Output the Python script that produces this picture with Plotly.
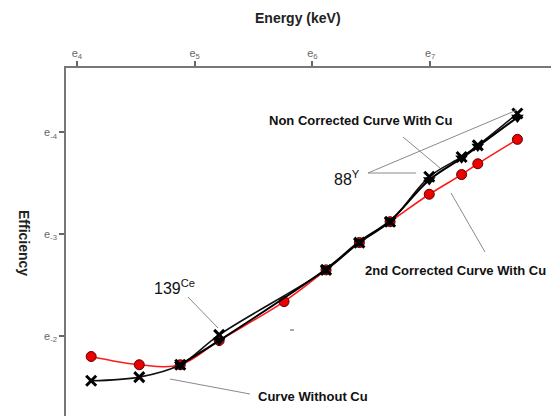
import numpy as np
import plotly.graph_objects as go

# ---- data (energies in keV, efficiencies absolute) ----
energy_red = [61.6, 92.7, 131.3, 182.7, 317.0, 452.9, 601.0, 780.0, 1088.0, 1432.0, 1643.0, 2300.0]
eff_red = [0.1653, 0.1792, 0.1792, 0.1413, 0.0964, 0.0706, 0.0540, 0.0440, 0.0336, 0.0277, 0.0249, 0.0196]

energy_nocu = [61.6, 92.7, 131.3, 182.7, 452.9, 601.0, 780.0, 1088.0, 1432.0, 1643.0, 2300.0]
eff_nocu = [0.2097, 0.2023, 0.1792, 0.1336, 0.0706, 0.0540, 0.0440, 0.0283, 0.0233, 0.0208, 0.0152]

energy_nc = [131.3, 182.7, 452.9, 601.0, 780.0, 1088.0, 1432.0, 1643.0, 2300.0]
eff_nc = [0.1792, 0.1413, 0.0700, 0.0535, 0.0436, 0.0292, 0.0236, 0.0210, 0.0158]

xtick_exp = [4, 5, 6, 7]
ytick_exp = [-4, -3, -2]
xtick_labels = ["e<sub>4</sub>", "e<sub>5</sub>", "e<sub>6</sub>", "e<sub>7</sub>"]
ytick_labels = ["e<sub>-4</sub>", "e<sub>-3</sub>", "e<sub>-2</sub>"]

W, H = 551, 416
L, T = 66, 68


def px(x, y):
    return (x - L) / (W - L), (H - y) / (H - T)


fig = go.Figure()
fig.add_trace(go.Scatter(
    x=energy_red, y=eff_red, mode="lines+markers", line=dict(color="#ff1a1a", width=1.6, shape="spline"),
    marker=dict(symbol="circle", size=10, color="#ee0000", line=dict(color="#550000", width=1)),
    name="2nd Corrected Curve With Cu", showlegend=False))
fig.add_trace(go.Scatter(
    x=energy_nocu, y=eff_nocu, mode="lines+markers", line=dict(color="#111111", width=1.6, shape="spline"),
    marker=dict(symbol="x-thin", size=10, color="black", line=dict(color="black", width=3)),
    name="Curve Without Cu", showlegend=False))
fig.add_trace(go.Scatter(
    x=energy_nc, y=eff_nc, mode="lines+markers", line=dict(color="#000000", width=2, shape="spline"),
    marker=dict(symbol="triangle-down", size=11, color="black"),
    name="Non Corrected Curve With Cu", showlegend=False))

ln10 = np.log(10)
xr = [3.907 / ln10, 8.026 / ln10]
yr = [-1.216 / ln10, -4.633 / ln10]

tf = dict(family="Liberation Sans, Arial", size=11, color="#666666")
fig.update_xaxes(type="log", range=xr, side="top", showgrid=False, zeroline=False, automargin=False,
                 showline=True, linecolor="#777777", linewidth=1.5,
                 ticks="outside", ticklen=5, tickwidth=1.5, tickcolor="#666666",
                 tickvals=[float(np.exp(v)) for v in xtick_exp], ticktext=xtick_labels, tickfont=tf)
fig.update_yaxes(type="log", range=yr, showgrid=False, zeroline=False, automargin=False,
                 showline=True, linecolor="#777777", linewidth=1.5,
                 ticks="outside", ticklen=5, tickwidth=1.5, tickcolor="#666666",
                 tickvals=[float(np.exp(v)) for v in ytick_exp], ticktext=ytick_labels, tickfont=tf)

# pointer lines
segs = [((403, 137), (440, 168)), ((485, 252), (451, 193)),
        ((368, 173), (416, 173)), ((368, 173), (517, 110)),
        ((188, 297), (218, 328)), ((170, 379), (250, 394))]
shapes = []
for (a, b) in segs:
    x0, y0 = px(*a)
    x1, y1 = px(*b)
    shapes.append(dict(type="line", xref="paper", yref="paper", x0=x0, y0=y0, x1=x1, y1=y1,
                       line=dict(color="#8a8a8a", width=1)))
x0, y0 = px(290, 330)
x1, y1 = px(294, 330)
shapes.append(dict(type="line", xref="paper", yref="paper", x0=x0, y0=y0, x1=x1, y1=y1,
                   line=dict(color="#555555", width=1)))

labels = [("<b>Non Corrected Curve With Cu</b>", 360, 121, 13),
          ("<b>2nd Corrected Curve With Cu</b>", 455, 270, 13),
          ("88<sup>Y</sup>", 347, 178, 16),
          ("139<sup>Ce</sup>", 174, 287, 16),
          ("<b>Curve Without Cu</b>", 313, 396, 13)]
ann = []
for txt, x, y, s in labels:
    xp, yp = px(x, y)
    ann.append(dict(text=txt, x=xp, y=yp, xref="paper", yref="paper", showarrow=False,
                    xanchor="center", yanchor="middle",
                    font=dict(family="Liberation Sans, Arial", size=s, color="#111111")))
# axis titles
xp, yp = px(298, 18)
ann.append(dict(text="<b>Energy (keV)</b>", x=xp, y=yp, xref="paper", yref="paper",
                showarrow=False, xanchor="center", yanchor="middle",
                font=dict(family="Liberation Sans, Arial", size=14, color="#222222")))
xp, yp = px(24, 243)
ann.append(dict(text="<b>Efficiency</b>", x=xp, y=yp, xref="paper", yref="paper",
                showarrow=False, xanchor="center", yanchor="middle", textangle=90,
                font=dict(family="Liberation Sans, Arial", size=14, color="#222222")))

fig.update_layout(width=W, height=H, margin=dict(l=L, t=T, r=0, b=0, pad=0),
                  paper_bgcolor="white", plot_bgcolor="white",
                  shapes=shapes, annotations=ann)

fig.write_html("out.html", config={"displayModeBar": False},
               post_script="document.body.style.margin='0';document.body.style.overflow='hidden';")
